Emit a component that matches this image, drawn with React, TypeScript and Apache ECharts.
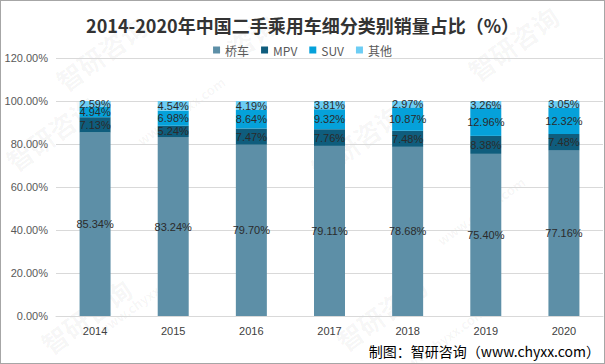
import React, { useEffect, useRef } from "react";
import * as echarts from "echarts";

const years = ["2014", "2015", "2016", "2017", "2018", "2019", "2020"];
const seriesNames = ["桥车", "MPV", "SUV", "其他"];
const sedan = [85.34, 83.24, 79.7, 79.11, 78.68, 75.4, 77.16];
const mpv = [7.13, 5.24, 7.47, 7.76, 7.48, 8.38, 7.48];
const suv = [4.94, 6.98, 8.64, 9.32, 10.87, 12.96, 12.32];
const other = [2.59, 4.54, 4.19, 3.81, 2.97, 3.26, 3.05];
const colors = ["#5d8fa7", "#0f5d7d", "#05a1da", "#6ccdf4"];
const titleText = "2014-2020年中国二手乘用车细分类别销量占比（%）";
const sourceText = "制图：智研咨询（www.chyxx.com）";

const LABEL_FONT = "'Liberation Sans Narrow', 'Liberation Sans', 'Noto Sans', sans-serif";
const CJK_FONT = "'Noto Sans CJK SC', 'Noto Sans', sans-serif";

export default function App() {
  const ref = useRef<HTMLDivElement>(null);
  useEffect(() => {
    if (!ref.current) return;
    const chart = echarts.init(ref.current, undefined, { renderer: "svg" });
    const values = [sedan, mpv, suv, other];
    const wm = (x: number, y: number, text: string, size: number) => ({
      type: "text",
      x,
      y,
      rotation: Math.PI / 5,
      z: -10,
      zlevel: 0,
      silent: true,
      style: {
        text,
        fill: "rgba(0,0,0,0.045)",
        font: `bold ${size}px 'Noto Sans CJK SC', sans-serif`,
        align: "center",
        verticalAlign: "middle",
      },
    });
    chart.setOption({
      animation: false,
      color: colors,
      title: {
        text: titleText,
        left: "center",
        top: 10,
        textStyle: {
          fontSize: 18,
          fontWeight: "bold",
          color: "#333333",
          fontFamily: CJK_FONT,
        },
      },
      legend: {
        top: 38,
        left: "center",
        icon: "rect",
        itemWidth: 7,
        itemHeight: 7,
        itemGap: 12,
        textStyle: { fontSize: 12, color: "#595959", fontFamily: CJK_FONT },
        data: seriesNames,
      },
      grid: { left: 55, right: 1, top: 57, bottom: 47 },
      xAxis: {
        type: "category",
        data: years,
        axisTick: { show: false },
        axisLine: { lineStyle: { color: "#d9d9d9" } },
        axisLabel: { color: "#404040", fontSize: 11, fontFamily: LABEL_FONT, margin: 9 },
      },
      yAxis: {
        type: "value",
        min: 0,
        max: 120,
        interval: 20,
        axisLine: { show: false },
        axisTick: { show: false },
        splitLine: { lineStyle: { color: "#d9d9d9" } },
        axisLabel: {
          color: "#595959",
          fontSize: 11,
          fontFamily: LABEL_FONT,
          margin: 8,
          formatter: (v: number) => v.toFixed(2) + "%",
        },
      },
      graphic: [
        wm(100, 52, "智研咨询", 26),
        wm(50, 132, "智研咨询", 26),
        wm(250, 35, "咨询", 26),
        wm(512, 42, "智研咨询", 26),
        wm(355, 140, "智研咨询", 26),
        wm(85, 315, "智研咨询", 26),
        wm(380, 312, "智研咨询", 26),
        wm(180, 110, "www.chyxx.com", 13),
        wm(480, 210, "www.chyxx.com", 13),
        wm(140, 300, "www.chyxx.com", 13),
        wm(440, 340, "www.chyxx.com", 13),
        {
          type: "text",
          right: 4,
          top: 343,
          z: 10,
          style: {
            text: sourceText,
            fill: "#000000",
            font: `14px ${CJK_FONT}`,
          },
        },
      ],
      series: seriesNames.map((name, i) => ({
        name,
        type: "bar",
        stack: "total",
        barWidth: 31,
        data: values[i],
        itemStyle: { color: colors[i] },
        label: {
          show: true,
          position: "inside",
          color: "#2b2b2b",
          fontSize: 11,
          fontFamily: LABEL_FONT,
          textBorderWidth: 0,
          textBorderColor: "transparent",
          formatter: (p: any) => Number(p.value).toFixed(2) + "%",
        },
      })),
    });
    return () => chart.dispose();
  }, []);
  return (
    <div
      style={{
        position: "fixed",
        left: 0,
        top: 0,
        width: 605,
        height: 364,
        boxSizing: "border-box",
        border: "1px solid #a6a6a6",
        background: "#ffffff",
      }}
    >
      <div ref={ref} style={{ width: 603, height: 362 }} />
    </div>
  );
}
